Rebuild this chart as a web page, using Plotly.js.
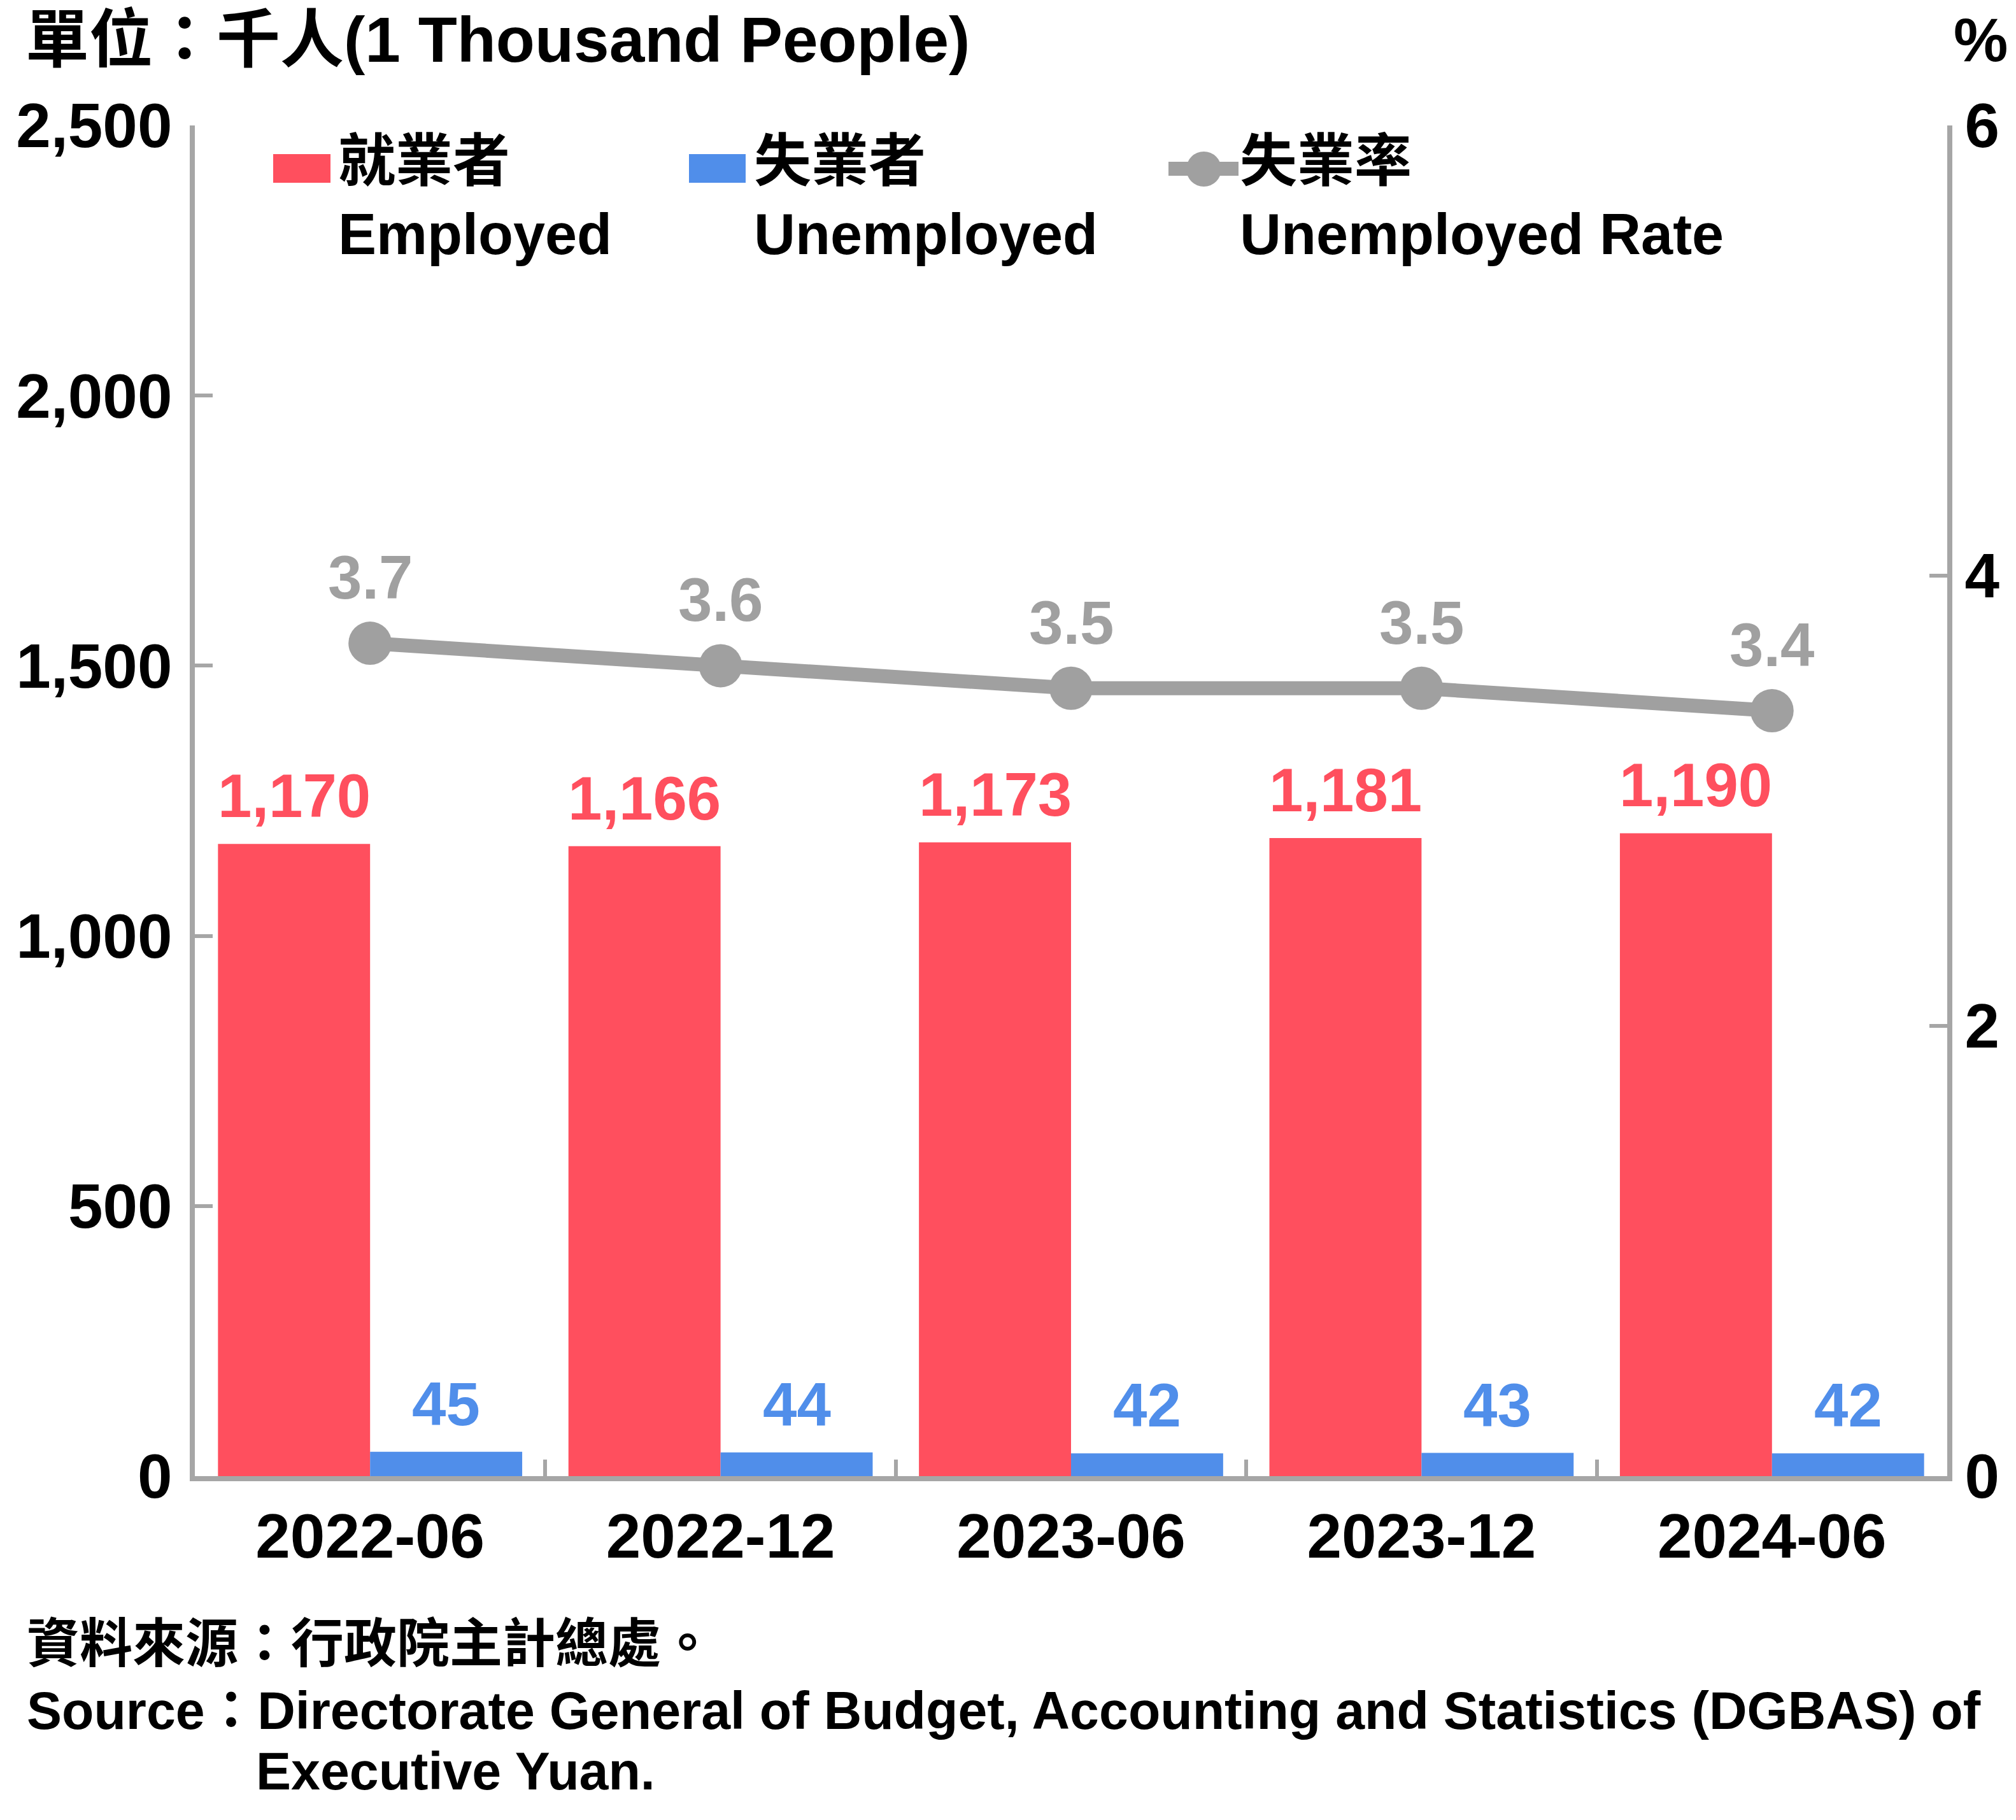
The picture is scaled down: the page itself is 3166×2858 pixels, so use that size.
<!DOCTYPE html>
<html>
<head>
<meta charset="utf-8">
<script src="https://cdn.plot.ly/plotly-3.0.1.min.js"></script>
<style>html,body{margin:0;padding:0;background:#fff;}#chart{width:3166px;height:2858px;}</style>
</head>
<body>
<div id="chart"></div>
<script>
// ---- data ----
const categories = ['2022-06', '2022-12', '2023-06', '2023-12', '2024-06'];
const employed = [1170, 1166, 1173, 1181, 1190];
const unemployed = [45, 44, 42, 43, 42];
const unemploymentRate = [3.7, 3.6, 3.5, 3.5, 3.4];
const leftTicks = [0, 500, 1000, 1500, 2000, 2500];
const rightTicks = [0, 2, 4, 6];
const seriesNames = ['就業者', '失業者', '失業率'];
const seriesNamesEn = ['Employed', 'Unemployed', 'Unemployed Rate'];

// ---- style ----
const RED = '#FF4F5E', BLUE = '#508EEA', GRAY = '#A0A0A0', AXIS = '#A6A6A6';
const FONT = 'Liberation Sans, Arial, Noto Sans CJK TC, sans-serif';
const W = 3166, H = 2858;
const L = 306, R = 3058, T = 197, B = 2318;
const BARGAP = 0.132;
const px = x => (x - L) / (R - L);
const py = y => (B - y) / (B - T);
const catW = (R - L) / categories.length;
const barOff = catW * (1 - BARGAP) / 4;
const fmt = v => v.toLocaleString('en-US');

const traces = [
  {type: 'bar', name: seriesNames[0], x: categories, y: employed, marker: {color: RED}, hoverinfo: 'skip'},
  {type: 'bar', name: seriesNames[1], x: categories, y: unemployed, marker: {color: BLUE}, hoverinfo: 'skip'},
  {type: 'scatter', mode: 'lines+markers', name: seriesNames[2], x: categories, y: unemploymentRate, yaxis: 'y2',
   line: {color: GRAY, width: 22}, marker: {color: GRAY, size: 68}, hoverinfo: 'skip', cliponaxis: false}
];

const annotations = [];
const bold = (size, color) => ({family: FONT, size: size, color: color, weight: 'bold'});
categories.forEach((c, i) => {
  annotations.push({x: c, y: employed[i], xref: 'x', yref: 'y', xshift: -barOff, yshift: 20, yanchor: 'bottom', xanchor: 'center',
    text: fmt(employed[i]), showarrow: false, font: bold(96, RED)});
  annotations.push({x: c, y: unemployed[i], xref: 'x', yref: 'y', xshift: barOff, yshift: 20, yanchor: 'bottom', xanchor: 'center',
    text: fmt(unemployed[i]), showarrow: false, font: bold(96, BLUE)});
  annotations.push({x: c, y: unemploymentRate[i], xref: 'x', yref: 'y2', yshift: 48, yanchor: 'bottom', xanchor: 'center',
    text: unemploymentRate[i].toFixed(1), showarrow: false, font: bold(96, GRAY)});
});

// legend (manual)
const legendTextX = [529, 1182, 1945];
legendTextX.forEach((x, i) => {
  annotations.push({xref: 'paper', yref: 'paper', x: px(x), y: py(253), xanchor: 'left', yanchor: 'middle',
    text: seriesNames[i], showarrow: false, font: bold(90, '#000')});
  annotations.push({xref: 'paper', yref: 'paper', x: px(x), y: py(368), xanchor: 'left', yanchor: 'middle',
    text: seriesNamesEn[i], showarrow: false, font: bold(90, '#000')});
});

// unit labels and source
annotations.push({xref: 'paper', yref: 'paper', x: px(3110), y: py(63), xanchor: 'center', yanchor: 'middle',
  text: '%', showarrow: false, font: bold(96, '#000')});
annotations.push({xref: 'paper', yref: 'paper', x: px(40), y: py(2581), xanchor: 'left', yanchor: 'middle',
  text: '資料來源：行政院主計總處。', showarrow: false, font: bold(83, '#000')});
annotations.push({xref: 'paper', yref: 'paper', x: px(40), y: py(2686), xanchor: 'left', yanchor: 'middle',
  text: 'Source：Directorate General of Budget, Accounting and Statistics (DGBAS) of', showarrow: false, font: bold(82.5, '#000')});
annotations.push({xref: 'paper', yref: 'paper', x: px(400), y: py(2781), xanchor: 'left', yanchor: 'middle',
  text: 'Executive Yuan.', showarrow: false, font: bold(82.5, '#000')});

const shapes = [
  {type: 'rect', xref: 'paper', yref: 'paper', x0: px(429), x1: px(519), y0: py(287), y1: py(242), fillcolor: RED, line: {width: 0}},
  {type: 'rect', xref: 'paper', yref: 'paper', x0: px(1082), x1: px(1171), y0: py(287), y1: py(242), fillcolor: BLUE, line: {width: 0}},
  {type: 'line', xref: 'paper', yref: 'paper', x0: px(1835), x1: px(1945), y0: py(265), y1: py(265), line: {color: GRAY, width: 22}},
  {type: 'circle', xref: 'paper', yref: 'paper', x0: px(1863), x1: px(1918), y0: py(293), y1: py(238), fillcolor: GRAY, line: {width: 0}}
];

const layout = {
  width: W, height: H,
  margin: {l: L, r: W - R, t: T, b: H - B, pad: 0},
  paper_bgcolor: '#fff', plot_bgcolor: '#fff',
  showlegend: false,
  barmode: 'group', bargap: BARGAP, bargroupgap: 0,
  title: {text: '單位：千人(1 Thousand People)', xref: 'container', yref: 'container', x: 40 / W, xanchor: 'left',
    y: 1 - 62 / H, yanchor: 'middle', font: bold(100, '#000')},
  xaxis: {type: 'category', showline: true, linecolor: AXIS, linewidth: 8, ticks: 'inside', tickson: 'boundaries',
    ticklen: 26, tickwidth: 6, tickcolor: AXIS, showgrid: false, zeroline: false,
    tickfont: bold(98, '#000'), ticklabelstandoff: 2},
  yaxis: {range: [0, 2500], tickvals: leftTicks, ticktext: leftTicks.map(fmt), showline: true, linecolor: AXIS, linewidth: 8,
    ticks: 'inside', ticklen: 28, tickwidth: 6, tickcolor: AXIS, showgrid: false, zeroline: false,
    tickfont: bold(98, '#000'), ticklabelstandoff: 8},
  yaxis2: {range: [0, 6], tickvals: rightTicks, overlaying: 'y', side: 'right', showline: true, linecolor: AXIS, linewidth: 8,
    ticks: 'inside', ticklen: 28, tickwidth: 6, tickcolor: AXIS, showgrid: false, zeroline: false,
    tickfont: bold(98, '#000'), ticklabelstandoff: 0},
  annotations: annotations,
  shapes: shapes
};

Plotly.newPlot('chart', traces, layout, {displayModeBar: false, staticPlot: true});
</script>
</body>
</html>
